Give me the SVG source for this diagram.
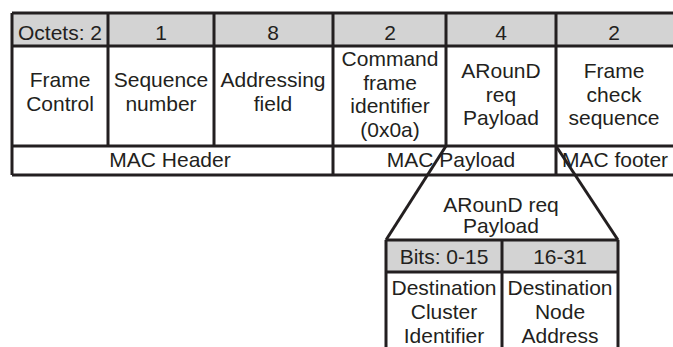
<svg xmlns="http://www.w3.org/2000/svg" width="673" height="347" viewBox="0 0 673 347">
  <style>
    .hdr { fill: #d3d3d3; }
    .ln { stroke: #231f20; stroke-width: 3; fill: none; }
    text { font-family: "Liberation Sans", Arial, sans-serif; font-size: 21px; fill: #231f20; text-anchor: middle; }
  </style>
  <rect width="673" height="347" fill="#ffffff"/>

  <!-- MAC frame: octet counts row -->
  <g id="octets-row">
    <rect class="hdr" x="12" y="13" width="663" height="33"/>
    <text x="60" y="40">Octets: 2</text>
    <text x="161" y="40">1</text>
    <text x="273" y="40">8</text>
    <text x="390" y="40">2</text>
    <text x="501" y="40">4</text>
    <text x="614" y="40">2</text>
  </g>

  <g id="frame-control">
    <text x="60" y="87">Frame</text>
    <text x="60" y="111">Control</text>
  </g>
  <g id="sequence-number">
    <text x="161" y="87">Sequence</text>
    <text x="161" y="111">number</text>
  </g>
  <g id="addressing-field">
    <text x="273" y="87">Addressing</text>
    <text x="273" y="111">field</text>
  </g>
  <g id="command-frame-identifier">
    <text x="390" y="66">Command</text>
    <text x="390" y="89.5">frame</text>
    <text x="390" y="113">identifier</text>
    <text x="390" y="136.5">(0x0a)</text>
  </g>
  <g id="around-req-payload">
    <text x="501" y="78">ARounD</text>
    <text x="501" y="101.5">req</text>
    <text x="501" y="125">Payload</text>
  </g>
  <g id="frame-check-sequence">
    <text x="614" y="78">Frame</text>
    <text x="614" y="101.5">check</text>
    <text x="614" y="125">sequence</text>
  </g>

  <g id="mac-header"><text x="170" y="167">MAC Header</text></g>
  <g id="mac-payload"><text x="451" y="167">MAC Payload</text></g>
  <g id="mac-footer"><text x="615" y="167">MAC footer</text></g>

  <!-- MAC frame grid -->
  <g id="frame-grid" class="ln">
    <path d="M12 13 H675 M12 46 H675 M12 146 H675 M12 175 H675"/>
    <path d="M12 13 V175"/>
    <path d="M108 13 V146 M214 13 V146 M333 13 V175 M446 13 V146 M556 13 V175"/>
  </g>

  <!-- Expanded ARounD req payload -->
  <g id="payload-title">
    <text x="501" y="212">ARounD req</text>
    <text x="501" y="233">Payload</text>
  </g>
  <g id="bits-row">
    <rect class="hdr" x="386" y="240" width="232" height="32"/>
    <text x="444" y="264">Bits: 0-15</text>
    <text x="560" y="264">16-31</text>
  </g>
  <g id="destination-cluster-identifier">
    <text x="444" y="295">Destination</text>
    <text x="444" y="319">Cluster</text>
    <text x="444" y="343">Identifier</text>
  </g>
  <g id="destination-node-address">
    <text x="560" y="295">Destination</text>
    <text x="560" y="319">Node</text>
    <text x="560" y="343">Address</text>
  </g>
  <g id="payload-grid" class="ln">
    <path d="M386 240 H618 M386 272 H618"/>
    <path d="M386 240 V350 M502 240 V350 M618 240 V350"/>
  </g>

  <!-- Connectors fanning out from the payload field -->
  <g id="connectors" class="ln">
    <path d="M446 146 L386 240"/>
    <path d="M556 146 L618 240"/>
  </g>
</svg>
